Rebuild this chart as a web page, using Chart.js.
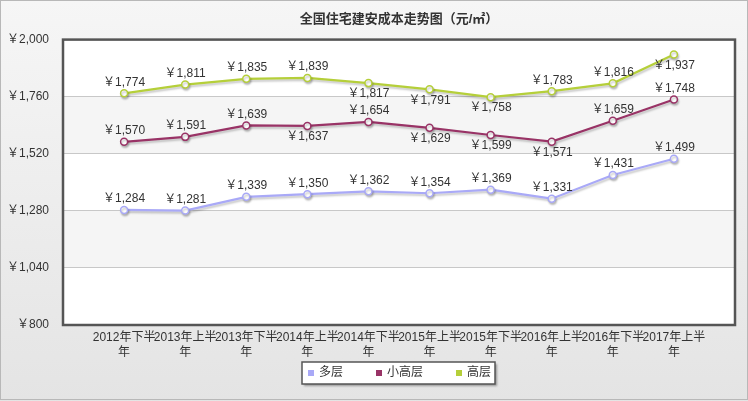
<!DOCTYPE html>
<html><head><meta charset="utf-8">
<script src="https://cdn.jsdelivr.net/npm/chart.js@4/dist/chart.umd.min.js"></script>
<style>html,body{margin:0;padding:0;background:#fff}canvas{display:block}</style>
</head><body>
<canvas id="c" width="748" height="401"></canvas>
<script>
const title = '全国住宅建安成本走势图（元/㎡）';
const categories = ['2012年下半年','2013年上半年','2013年下半年','2014年上半年','2014年下半年','2015年上半年','2015年下半年','2016年上半年','2016年下半年','2017年上半年'];
const seriesNames = ['多层','小高层','高层'];
const multiStorey = [1284,1281,1339,1350,1362,1354,1369,1331,1431,1499];
const smallHigh   = [1570,1591,1639,1637,1654,1629,1599,1571,1659,1748];
const highRise    = [1774,1811,1835,1839,1817,1791,1758,1783,1816,1937];
const yTicks = [800,1040,1280,1520,1760,2000];

// label placement (a = above, b = below)
const labelPlace = [
  ['a','a','a','a','a','a','a','a','a','a'],
  ['a','a','a','b','a','b','b','b','a','a'],
  ['a','a','a','a','b','b','b','a','a','b']
];
const colors = ['#a9a9f7','#993366','#b5cf3a'];
const FONT = "'Liberation Sans','Noto Sans CJK SC',sans-serif";
const fmt = v => '￥' + v.toLocaleString('en-US');
const seriesValues = [multiStorey, smallHigh, highRise];

const bgPlugin = {
  id: 'bg',
  beforeDraw(chart) {
    const {ctx, width, height, chartArea: a} = chart;
    ctx.save();
    const g = ctx.createLinearGradient(0, 0, 0, height);
    g.addColorStop(0, '#f6f6f6');
    g.addColorStop(1, '#e4e4e4');
    ctx.fillStyle = g;
    ctx.fillRect(0, 0, width, height);
    ctx.strokeStyle = '#b8b8b8';
    ctx.lineWidth = 1;
    ctx.strokeRect(0.5, 0.5, width - 1, height - 2);
    ctx.fillStyle = '#ffffff';
    ctx.fillRect(a.left, a.top, a.right - a.left, a.bottom - a.top);
    const y = chart.scales.y;
    ctx.fillStyle = '#f5f5f5';
    for (let i = 0; i < yTicks.length - 1; i++) {
      const hi = yTicks.length - 1 - i;
      if (i % 2 === 1) {
        const t = y.getPixelForValue(yTicks[hi]);
        const b = y.getPixelForValue(yTicks[hi - 1]);
        ctx.fillRect(a.left, t, a.right - a.left, b - t);
      }
    }
    ctx.restore();
  },
  beforeDatasetsDraw(chart) {
    const {ctx, chartArea: a} = chart;
    ctx.save();
    ctx.strokeStyle = '#555555';
    ctx.lineWidth = 2.5;
    ctx.strokeRect(a.left, a.top, a.right - a.left, a.bottom - a.top);
    ctx.restore();
  },
  beforeDatasetDraw(chart) {
    const ctx = chart.ctx;
    ctx.save();
    ctx.shadowColor = 'rgba(0,0,0,0.22)';
    ctx.shadowOffsetX = 1; ctx.shadowOffsetY = 2; ctx.shadowBlur = 2;
  },
  afterDatasetDraw(chart) { chart.ctx.restore(); }
};

const labelPlugin = {
  id: 'vlabels',
  afterDatasetsDraw(chart) {
    const ctx = chart.ctx;
    ctx.save();
    ctx.font = '12px ' + FONT;
    ctx.fillStyle = '#333333';
    ctx.textAlign = 'center';
    ctx.textBaseline = 'middle';
    chart.data.datasets.forEach((ds, di) => {
      const meta = chart.getDatasetMeta(di);
      meta.data.forEach((pt, i) => {
        const off = labelPlace[di][i] === 'b' ? 11 : -11;
        ctx.fillText(fmt(seriesValues[di][i]), pt.x, pt.y + off);
      });
    });
    ctx.restore();
  }
};

// boxed legend drawn from the datasets
const legendPlugin = {
  id: 'boxLegend',
  afterDraw(chart) {
    const {ctx, chartArea: a} = chart;
    const ds = chart.data.datasets;
    ctx.save();
    ctx.font = '12px ' + FONT;
    const mark = 6, gapMT = 5, gapItem = 33, padL = 6, padR = 4;
    const widths = ds.map(d => mark + gapMT + ctx.measureText(d.label).width);
    const inner = widths.reduce((s, w) => s + w, 0) + gapItem * (ds.length - 1);
    const fw = inner + padL + padR, fh = 22;
    const fl = Math.round((a.left + a.right) / 2 - fw / 2);
    const ft = 362;
    ctx.shadowColor = 'rgba(0,0,0,0.35)';
    ctx.shadowOffsetX = 2; ctx.shadowOffsetY = 2; ctx.shadowBlur = 2;
    ctx.fillStyle = '#ffffff';
    ctx.fillRect(fl, ft, fw, fh);
    ctx.shadowColor = 'transparent';
    ctx.strokeStyle = '#555';
    ctx.lineWidth = 1.5;
    ctx.strokeRect(fl, ft, fw, fh);
    let x = fl + padL;
    const cy = ft + fh / 2;
    ds.forEach((d, i) => {
      ctx.fillStyle = d.borderColor;
      ctx.fillRect(x, cy - mark / 2, mark, mark);
      ctx.fillStyle = '#333';
      ctx.textBaseline = 'middle';
      ctx.textAlign = 'left';
      ctx.fillText(d.label, x + mark + gapMT, cy);
      x += widths[i] + gapItem;
    });
    ctx.restore();
  }
};

new Chart(document.getElementById('c'), {
  type: 'line',
  data: {
    datasets: seriesValues.map((vals, di) => ({
      label: seriesNames[di],
      data: vals.map((v, i) => ({x: i, y: v})),
      borderColor: colors[di],
      backgroundColor: colors[di],
      pointBackgroundColor: '#ffffff',
      pointBorderColor: colors[di],
      pointRadius: 3.5,
      pointBorderWidth: 1.5,
      borderWidth: 2.2,
      tension: 0,
      fill: false
    }))
  },
  options: {
    responsive: false,
    animation: false,
    events: [],
    layout: {padding: {left: 0, right: 13, top: 0, bottom: 39}},
    plugins: {
      title: {
        display: true, text: title, fullSize: false,
        color: '#333', font: {family: FONT, size: 13, weight: 'bold'},
        padding: {top: 12, bottom: 12}
      },
      legend: {display: false},
      tooltip: {enabled: false}
    },
    scales: {
      x: {
        type: 'linear', min: -1, max: 10,
        grid: {display: false, drawTicks: false},
        border: {display: false},
        afterFit(s) { s.height = 37; },
        afterBuildTicks(s) { s.ticks = categories.map((c, i) => ({value: i})); },
        ticks: {
          autoSkip: false, maxRotation: 0, minRotation: 0, padding: 5,
          color: '#333', font: {family: FONT, size: 12, lineHeight: 1.25},
          callback(v) { const c = categories[v]; return c ? [c.slice(0, -1), c.slice(-1)] : ''; }
        }
      },
      y: {
        min: yTicks[0], max: yTicks[yTicks.length - 1],
        grid: {color: '#c8c8c8', lineWidth: 1, drawTicks: false},
        border: {display: false},
        afterFit(s) { s.width = 63; },
        afterBuildTicks(s) { s.ticks = yTicks.map(v => ({value: v})); },
        ticks: {
          padding: 14, color: '#333', font: {family: FONT, size: 12},
          callback(v) { return fmt(v); }
        }
      }
    }
  },
  plugins: [bgPlugin, labelPlugin, legendPlugin]
});
</script>
</body></html>
